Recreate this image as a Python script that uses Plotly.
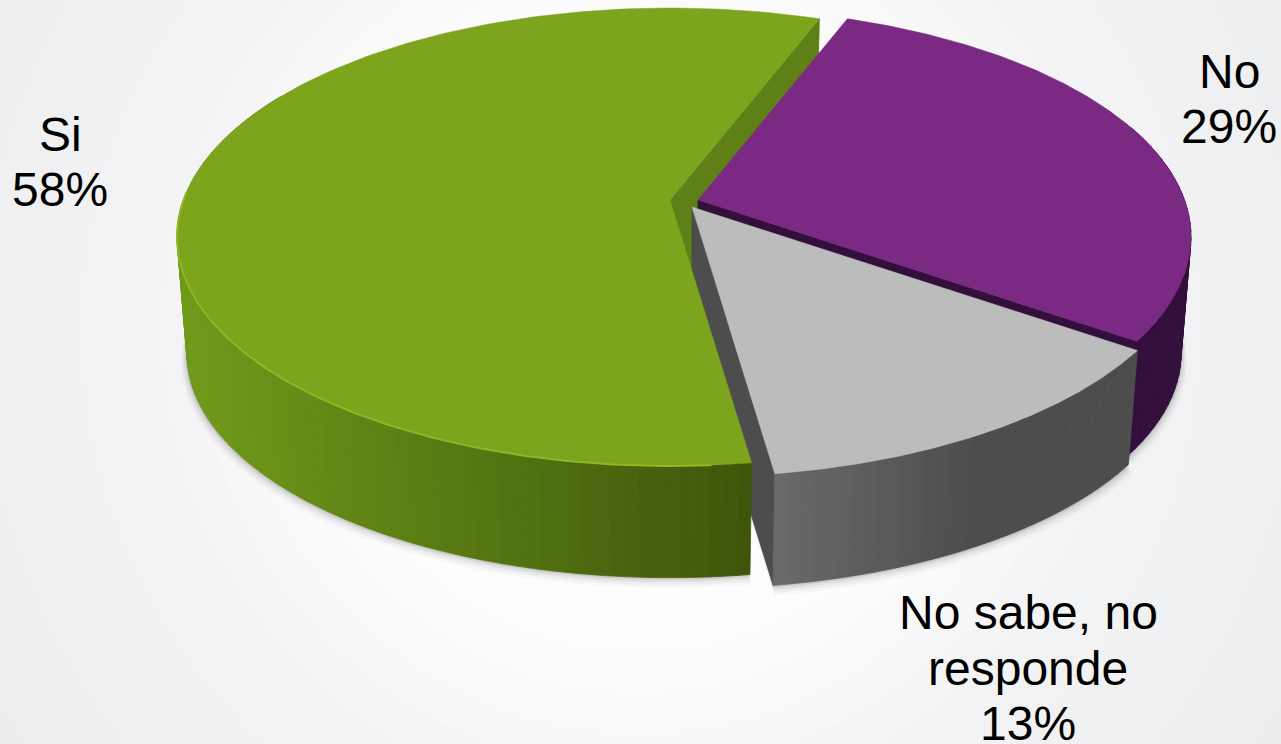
import numpy as np
import plotly.graph_objects as go

categories = ["Si", "No", "No sabe, no responde"]
values = [58, 29, 13]
label_lines = [["Si"], ["No"], ["No sabe, no", "responde"]]

W, H = 1281, 744
TOP = {"Si": "#7ca41c", "No": "#7b2a83", "No sabe, no responde": "#bcbcbc"}
FACE = {"Si": "#5f8016", "No": "#330f3b", "No sabe, no responde": "#4d4d4d"}
APEX = {"Si": (670, 200), "No": (698, 200), "No sabe, no responde": (692, 207)}
RADIUS = {"Si": 1.0, "No": 1.0, "No sabe, no responde": 1.015}
LABEL_POS = {"Si": (60, 134), "No": (1229, 71), "No sabe, no responde": (1028, 612.5)}
LINE_GAP = 55.5

# Perspective pie geometry
L, K, P = 486.5, 223.0, 0.1615
DEPTH, BOTTOM_SCALE = 117.0, 0.98
START = 20.7


def rim(cat, theta, bottom=False, s_extra=0.0, dy=0.0):
    apex = APEX[cat]
    t = np.radians(np.asarray(theta, dtype=float))
    u, v = np.sin(t), -np.cos(t)
    d = 1 - P * v
    s = ((BOTTOM_SCALE if bottom else 1.0) + s_extra) * RADIUS[cat]
    off = DEPTH if bottom else 0.0
    return apex[0] + s * L * u / d, apex[1] + off + dy + s * K * v / d


def poly(x, y, color, line=None, width=0.8):
    return go.Scatter(x=list(x), y=list(y), mode="lines", fill="toself", fillcolor=color,
                      line=dict(color=line or color, width=width), hoverinfo="skip", showlegend=False)


def mix(a, b, t):
    t = min(max(t, 0), 1)
    return "rgb(%d,%d,%d)" % tuple(round(p + (q - p) * t) for p, q in zip(a, b))


# Sector angles come from the values (clockwise from the back of the pie)
sweep = {c: v / sum(values) * 360 for c, v in zip(categories, values)}
ang = {}
ang["No"] = (START, START + sweep["No"])
ang["No sabe, no responde"] = (ang["No"][1], ang["No"][1] + sweep["No sabe, no responde"])
ang["Si"] = (ang["No sabe, no responde"][1], ang["No sabe, no responde"][1] + sweep["Si"])

traces = []


def shadow(cat, a0, a1):
    th = np.linspace(a0, a1, 120)
    for s_extra, dy, alpha in [(0.012, 7, 0.03), (0.009, 5, 0.05), (0.006, 3, 0.07), (0.003, 1.5, 0.12)]:
        x, y = rim(cat, th, True, s_extra, dy)
        traces.append(poly(list(x) + [APEX[cat][0]], list(y) + [APEX[cat][1] + DEPTH],
                           "rgba(60,60,60,%.2f)" % alpha, line="rgba(0,0,0,0)", width=0))


def face(cat, theta):
    ap = APEX[cat]
    tx, ty = rim(cat, [theta])
    bx, by = rim(cat, [theta], True)
    return poly([ap[0], tx[0], bx[0], ap[0], ap[0]],
                [ap[1], ty[0], by[0], ap[1] + DEPTH, ap[1]], FACE[cat])


def top(cat):
    a0, a1 = ang[cat]
    th = np.linspace(a0, a1, 200)
    x, y = rim(cat, th)
    ap = APEX[cat]
    return poly([ap[0]] + list(x) + [ap[0]], [ap[1]] + list(y) + [ap[1]], TOP[cat], width=0.5)


def wall_strips(cat, a0, a1, n, colorfn):
    out = []
    edges = np.linspace(a0, a1, n + 1)
    for i in range(n):
        th = np.linspace(edges[i], edges[i + 1], 4)
        x, y = rim(cat, th)
        bx, by = rim(cat, th, True)
        c = colorfn(float(np.mean(x)))
        out.append(poly(list(x) + list(bx[::-1]) + [x[0]], list(y) + list(by[::-1]) + [y[0]], c))
    return out


# Ground shadows
shadow("Si", ang["Si"][0], 300)
shadow("No sabe, no responde", *ang["No sabe, no responde"])
shadow("No", ang["No"][1] - 40, ang["No"][1])

# Back-to-front painting
traces.append(face("Si", START))
traces += wall_strips("No", 70, ang["No"][1], 30, lambda x: FACE["No"])
traces.append(face("No", ang["No"][1]))
traces.append(top("No"))
gray = "No sabe, no responde"
traces.append(face(gray, ang[gray][1]))
traces += wall_strips(gray, *ang[gray], 36,
                      lambda x: mix((106, 106, 106), (77, 77, 77), (x - 775) / 200))
traces.append(top(gray))
traces += wall_strips("Si", ang["Si"][0], 300, 90,
                      lambda x: mix((112, 153, 26), (61, 86, 11), (x - 187) / (748 - 187)))
traces.append(top("Si"))
hx, hy = rim("Si", np.linspace(ang["Si"][0] + 4, 272, 120))
traces.append(go.Scatter(x=list(hx), y=list(hy), mode="lines", line=dict(color="#8db823", width=2),
                         hoverinfo="skip", showlegend=False))

fig = go.Figure(traces)

# Soft radial page background
stops = [(0, (254, 254, 254)), (330, (253, 253, 253)), (500, (243, 243, 245)), (820, (235, 236, 238))]
shapes = []
cx0, cy0 = 640, 330
for r in range(800, 0, -20):
    col = None
    for (r0, c0), (r1, c1) in zip(stops, stops[1:]):
        if r0 <= r <= r1:
            col = mix(c0, c1, (r - r0) / (r1 - r0))
            break
    shapes.append(dict(type="circle", xref="x", yref="y", x0=cx0 - r, x1=cx0 + r, y0=cy0 - r, y1=cy0 + r,
                       fillcolor=col, line=dict(width=0), layer="below"))

annotations = []
for cat, val, lines in zip(categories, values, label_lines):
    x, y = LABEL_POS[cat]
    for i, txt in enumerate(lines + ["%d%%" % val]):
        annotations.append(dict(x=x, y=y + i * LINE_GAP, text=txt, showarrow=False, xref="x", yref="y",
                                xanchor="center", yanchor="middle",
                                font=dict(family="Liberation Sans", size=48, color="#000000")))

fig.update_layout(
    width=W, height=H, margin=dict(l=0, r=0, t=0, b=0), autosize=False,
    paper_bgcolor="#ebecee", plot_bgcolor="#ebecee", showlegend=False,
    xaxis=dict(range=[0, W], visible=False, fixedrange=True),
    yaxis=dict(range=[H, 0], visible=False, fixedrange=True),
    shapes=shapes, annotations=annotations,
)
fig.write_html("out.html", config={"displayModeBar": False},
               post_script="document.body.style.margin='0';document.documentElement.style.overflow='hidden';")
